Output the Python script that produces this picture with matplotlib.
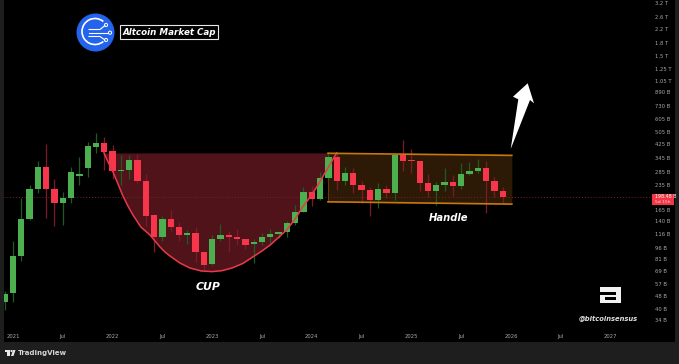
import numpy as np
import matplotlib
matplotlib.use('Agg')
import matplotlib.pyplot as plt
from matplotlib.patches import Circle, Polygon, Rectangle, Arc

# monthly candles, dec 2020 -> dec 2025, values in billions
months = list(range(-1, 60))
opens = [44, 49.8, 85, 145, 223, 306, 223, 183, 195, 267, 299, 408, 432, 382, 288, 293, 338, 248, 153, 112, 145,
         129, 115, 119, 90, 75.4, 109, 115.5, 112.5, 108.5, 101, 104, 112, 117, 120, 137, 161, 213, 193, 262,
         350, 248, 279, 234, 219, 190, 222, 210, 362, 337, 334, 243, 217, 235, 245, 233, 277, 289, 301, 251, 216]
closes = [49.6, 85.5, 145, 223, 306, 223, 183, 195, 284, 277, 410, 432, 378, 288, 292, 338, 248, 152, 111, 144, 129,
          115, 119, 89.5, 74.9, 109, 115, 112, 108.5, 99.8, 104, 112, 117, 120, 137, 161, 213, 193, 262, 352,
          248, 279, 234, 219, 190, 222, 210, 362, 332, 334, 243, 217, 235, 245, 233, 277, 289, 301, 251, 215, 198.5]
highs = [51.8, 105, 195, 236, 332, 424, 257, 214, 306, 352, 436, 496, 469, 418, 362, 364, 368, 276, 155, 152, 165,
         137.6, 124, 129.6, 92, 115, 135, 122.5, 126, 109, 108.5, 118.5, 125, 120.6, 140, 177, 230, 232, 283, 376,
         371, 306, 302, 251, 228, 242, 236, 371, 449, 395, 333, 275, 247, 300, 272, 322, 329, 342, 332, 265, 228]
lows = [39.3, 43.7, 79.6, 141.6, 211, 146, 131, 132, 183, 236, 264, 373, 292, 257, 236, 256, 243, 130, 90.6, 106, 122.5,
        106, 101, 78.5, 69.7, 74.9, 105, 90.6, 99.8, 94.2, 77.4, 99.8, 103, 110, 112.5, 133, 161, 174, 190, 253,
        219, 236, 209, 181, 150, 169, 194.5, 190, 289, 281, 217, 197, 177, 217, 201, 221, 272, 281, 157, 197, 183]

# drawn shapes on the chart
cup_x = [10.96, 11.45, 12.05, 12.65, 13.25, 13.85, 14.46, 15.4, 16.5, 17.7, 18.3, 18.9, 20.1, 21.3, 22.65, 24.0,
         25.2, 26.4, 27.7, 28.9, 30.0, 31.0, 31.9, 33.0, 34.0, 34.9, 35.8, 36.6, 37.3, 37.95, 38.5, 39.0]
cup_y = [373, 328, 284, 239, 201, 174, 153, 129, 115, 97, 90.2, 85.2, 77, 71.7, 68.7, 68,
         69, 71.7, 76.5, 84, 91.5, 99.8, 110, 124, 145, 172, 198, 229, 264, 301, 337, 373]
chan_x = [37.95, 60.1]
chan_top = [371, 360]
chan_bot = [185, 179]
last_price = 198.48

ytick_vals = [3200, 2600, 2200, 1800, 1500, 1250, 1050, 890, 730, 605, 505, 425, 345, 285, 235,
              165, 140, 116, 96, 81, 69, 57, 48, 40, 34]
ytick_labels = ['3.2 T', '2.6 T', '2.2 T', '1.8 T', '1.5 T', '1.25 T', '1.05 T', '890 B', '730 B', '605 B',
                '505 B', '425 B', '345 B', '285 B', '235 B', '165 B', '140 B', '116 B', '96 B', '81 B',
                '69 B', '57 B', '48 B', '40 B', '34 B']
xtick_vals = [0, 6, 12, 18, 24, 30, 36, 42, 48, 54, 60, 66, 72]
xtick_labels = ['2021', 'Jul', '2022', 'Jul', '2023', 'Jul', '2024', 'Jul', '2025', 'Jul', '2026', 'Jul', '2027']

GREEN = '#4caf50'
RED = '#f7364b'
W, H = 679, 364

fig = plt.figure(figsize=(W / 100, H / 100), dpi=100, facecolor='#1e1e1e')
ax = fig.add_axes([4 / W, 1 - 342 / H, 671 / W, 342 / H], facecolor='black')
ax.set_yscale('log')
ax.set_xlim(-1.084, 79.76)
ax.set_ylim(24.8, 3339)

# cup fill + channel under the candles
ax.fill_between(cup_x, cup_y, 373, color='#50131a', lw=0, zorder=1)
ax.fill_between(chan_x, chan_bot, chan_top, color='#2c1a06', lw=0, zorder=1)
ax.axhline(last_price, color='#7a1f2a', lw=0.7, ls=(0, (1, 2)), zorder=2)

# candles
for m, o, c, h, l in zip(months, opens, closes, highs, lows):
    up = c >= o
    ax.vlines(m, l, h, color='#1f5a25' if up else '#7c1a28', lw=0.9, zorder=3)
    ax.bar(m, abs(c - o), bottom=min(o, c), width=0.76, color=GREEN if up else RED, lw=0, zorder=4)

ax.plot(cup_x, cup_y, color='#e8394a', lw=1.1, zorder=5)
ax.plot(chan_x, chan_top, color='#c9770f', lw=1.2, zorder=5)
ax.plot(chan_x, chan_bot, color='#c9770f', lw=1.2, zorder=5)
ax.vlines(chan_x[0], chan_bot[0], chan_top[0], color='#6b4008', lw=0.7, zorder=2)

# axes, labels sit inside the pane
for s in ax.spines.values():
    s.set_visible(False)
ax.minorticks_off()
ax.yaxis.tick_right()
ax.set_yticks(ytick_vals)
ax.set_yticklabels(ytick_labels)
ax.tick_params(axis='y', which='both', length=0, pad=-14.4, labelsize=3.8, labelcolor='#a8a8a8')
ax.tick_params(axis='y', which='minor', labelright=False)
ax.set_xticks(xtick_vals)
ax.set_xticklabels(xtick_labels)
ax.tick_params(axis='x', length=0, pad=-5.6, labelsize=3.8, labelcolor='#a8a8a8')

# overlay in pixels for logos and notes
ov = fig.add_axes([0, 0, 1, 1], facecolor='none')
ov.set_xlim(0, W)
ov.set_ylim(H, 0)
ov.axis('off')

ov.text(208, 287, 'CUP', color='white', fontsize=7.8, style='italic', weight='bold', ha='center', va='center')
ov.text(449, 218, 'Handle', color='white', fontsize=7.2, style='italic', weight='bold', ha='center', va='center')

# blue logo
ov.add_patch(Circle((95.5, 32.5), 19, color='#2463eb', lw=0))
ov.add_patch(Arc((95, 31.5), 26, 26, theta1=50, theta2=310, color='white', lw=1.2))
ov.plot([89, 100, 105], [29.5, 29.5, 25.5], color='white', lw=0.8)
ov.plot([89, 108], [33, 33], color='white', lw=0.8)
ov.plot([89, 100, 105], [36.5, 36.5, 40], color='white', lw=0.8)
for cx, cy in [(106, 25), (110, 32.7), (106, 40)]:
    ov.add_patch(Circle((cx, cy), 1.6, fc='#2463eb', ec='white', lw=0.7))

# title box
ov.add_patch(Rectangle((120, 25), 98, 14, fc='black', ec='#e8e8e8', lw=0.8))
ov.text(169, 32.3, 'Altcoin Market Cap', color='white', fontsize=6.3, style='italic', weight='bold', ha='center', va='center')

# arrow
ov.add_patch(Polygon([(510.7, 149), (518.3, 99.3), (513, 96.7), (527.7, 83.3), (534, 103.3), (530, 100)],
                     color='white', lw=0))

# B logo
ov.add_patch(Rectangle((600, 287), 21, 16, color='#f2f2f2', lw=0))
ov.add_patch(Rectangle((600, 292), 16, 2.5, color='black', lw=0))
ov.add_patch(Rectangle((604.5, 297), 11.5, 3, color='black', lw=0))
ov.text(608, 319, '@bitcoinsensus', color='#e0e0e0', fontsize=4.9, style='italic', weight='bold', ha='center', va='center')

# last price tag
ov.add_patch(Rectangle((652, 194), 22, 11, color='#f23645', lw=0))
ov.text(655, 197, '198.48 B', color='white', fontsize=3.4, ha='left', va='center')
ov.text(655, 202, '5d 15h', color='#ffd9dc', fontsize=3.2, ha='left', va='center')

# tradingview footer
ov.add_patch(Rectangle((5, 350), 5, 2, color='#e8e8e8', lw=0))
ov.add_patch(Rectangle((7, 350), 2.5, 6, color='#e8e8e8', lw=0))
ov.add_patch(Polygon([(11, 356), (13, 350), (15.5, 350), (13.5, 356)], color='#e8e8e8', lw=0))
ov.add_patch(Circle((11.5, 351), 1.1, color='#e8e8e8', lw=0))
ov.text(18, 353, 'TradingView', color='#d6d6d6', fontsize=5, weight='bold', ha='left', va='center')

fig.savefig('out.png', dpi=100, facecolor=fig.get_facecolor())
